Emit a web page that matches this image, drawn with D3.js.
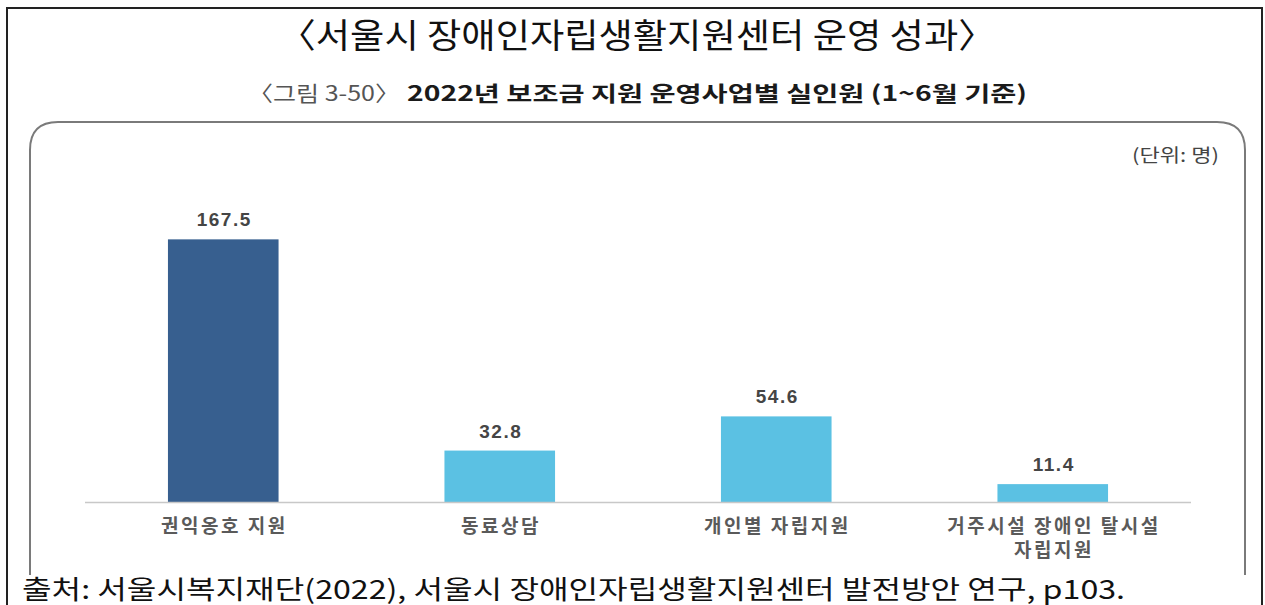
<!DOCTYPE html>
<html>
<head>
<meta charset="utf-8">
<script src="https://cdn.jsdelivr.net/npm/d3@7"></script>
<style>
  body { margin: 0; background: #fff; }
  svg { display: block; }
</style>
</head>
<body>
<svg id="chart" width="1265" height="605"></svg>
<script>
(function () {
    'use strict';

    // data
    var categories = ["권익옹호 지원", "동료상담", "개인별 자립지원", "거주시설 장애인 탈시설 자립지원"];
    var categoryLines = [["권익옹호 지원"], ["동료상담"], ["개인별 자립지원"], ["거주시설 장애인 탈시설", "자립지원"]];
    var values = [167.5, 32.8, 54.6, 11.4];
    var barColors = ["#375f8f", "#5bc1e3", "#5bc1e3", "#5bc1e3"];

    var pageTitle = "〈서울시 장애인자립생활지원센터 운영 성과〉";
    var figNo = "〈그림 3-50〉";
    var figTitle = "2022년 보조금 지원 운영사업별 실인원 (1~6월 기준)";
    var unitText = "(단위: 명)";
    var sourceText = "출처: 서울시복지재단(2022), 서울시 장애인자립생활지원센터 발전방안 연구, p103.";

    var svg = d3.select("#chart");
    var kr = "'Noto Sans CJK KR', sans-serif";

    // outer frame (no bottom edge)
    svg.append("path")
        .attr("d", "M7,605 L7,8 L1262,8 L1262,605")
        .attr("fill", "none")
        .attr("stroke", "#222")
        .attr("stroke-width", 2);

    // inner rounded panel, open at the bottom
    var r = 28;
    svg.append("path")
        .attr("d", "M30,575 L30," + (122 + r) + " Q30,122 " + (30 + r) + ",122 L" + (1245 - r) + ",122 Q1245,122 1245," + (122 + r) + " L1245,575")
        .attr("fill", "none")
        .attr("stroke", "#7a7a7a")
        .attr("stroke-width", 2);

    // titles
    svg.append("text")
        .attr("x", 637).attr("y", 48)
        .attr("text-anchor", "middle")
        .attr("textLength", 717)
        .attr("lengthAdjust", "spacingAndGlyphs")
        .style("font-family", kr)
        .style("font-size", "34px")
        .style("font-weight", 400)
        .attr("fill", "#111")
        .text(pageTitle);

    svg.append("text")
        .attr("x", 248).attr("y", 101)
        .attr("textLength", 152)
        .attr("lengthAdjust", "spacingAndGlyphs")
        .style("font-family", kr)
        .style("font-size", "21px")
        .attr("fill", "#555")
        .text(figNo);

    svg.append("text")
        .attr("x", 407).attr("y", 101)
        .attr("textLength", 620)
        .attr("lengthAdjust", "spacingAndGlyphs")
        .style("font-family", kr)
        .style("font-size", "21px")
        .style("font-weight", 700)
        .attr("fill", "#1a1a1a")
        .text(figTitle);

    svg.append("text")
        .attr("x", 1219).attr("y", 162)
        .attr("text-anchor", "end")
        .attr("textLength", 87)
        .attr("lengthAdjust", "spacingAndGlyphs")
        .style("font-family", kr)
        .style("font-size", "18px")
        .attr("fill", "#444")
        .text(unitText);

    // scales
    var baseY = 502;
    var x = d3.scaleBand()
        .domain(categories)
        .range([85, 1191])
        .paddingInner(0.6)
        .paddingOuter(0.3);

    var y = d3.scaleLinear()
        .domain([0, 180])
        .range([baseY, baseY - 180 * 1.568]);

    var g = svg.append("g");

    g.selectAll("rect.bar")
        .data(values)
        .enter()
        .append("rect")
        .attr("class", "bar")
        .attr("x", function (d, i) { return x(categories[i]); })
        .attr("y", function (d) { return y(d); })
        .attr("width", x.bandwidth())
        .attr("height", function (d) { return y(0) - y(d); })
        .attr("fill", function (d, i) { return barColors[i]; });

    // baseline
    g.append("line")
        .attr("x1", 85).attr("x2", 1191)
        .attr("y1", baseY + 0.5).attr("y2", baseY + 0.5)
        .attr("stroke", "#c8c8c8")
        .attr("stroke-width", 1.5);

    // value labels
    g.selectAll("text.val")
        .data(values)
        .enter()
        .append("text")
        .attr("class", "val")
        .attr("x", function (d, i) { return x(categories[i]) + x.bandwidth() / 2 + 1; })
        .attr("y", function (d) { return y(d) - 13; })
        .attr("text-anchor", "middle")
        .style("font-family", "'Liberation Sans', Arial, sans-serif")
        .style("font-size", "19px")
        .style("font-weight", 700)
        .style("letter-spacing", "1.5px")
        .attr("fill", "#454545")
        .text(function (d) { return d.toFixed(1); });

    // category labels
    var cat = g.selectAll("text.cat")
        .data(categoryLines)
        .enter()
        .append("text")
        .attr("class", "cat")
        .attr("text-anchor", "middle")
        .style("font-family", kr)
        .style("font-size", "19px")
        .style("font-weight", 700)
        .style("letter-spacing", "2.5px")
        .attr("fill", "#5a5a5a");

    cat.selectAll("tspan")
        .data(function (d, i) { return d.map(function (t) { return { t: t, i: i }; }); })
        .enter()
        .append("tspan")
        .attr("x", function (d) { return x(categories[d.i]) + x.bandwidth() / 2 + 1.2; })
        .attr("y", function (d, j) { return 533 + j * 24; })
        .text(function (d) { return d.t; });

    // source line on white strip
    svg.append("rect")
        .attr("x", 8).attr("y", 575)
        .attr("width", 1253).attr("height", 30)
        .attr("fill", "#fff");

    svg.append("text")
        .attr("x", 22).attr("y", 599)
        .attr("textLength", 1103)
        .attr("lengthAdjust", "spacingAndGlyphs")
        .style("font-family", kr)
        .style("font-size", "26px")
        .attr("fill", "#111")
        .text(sourceText);
})();
</script>
</body>
</html>
